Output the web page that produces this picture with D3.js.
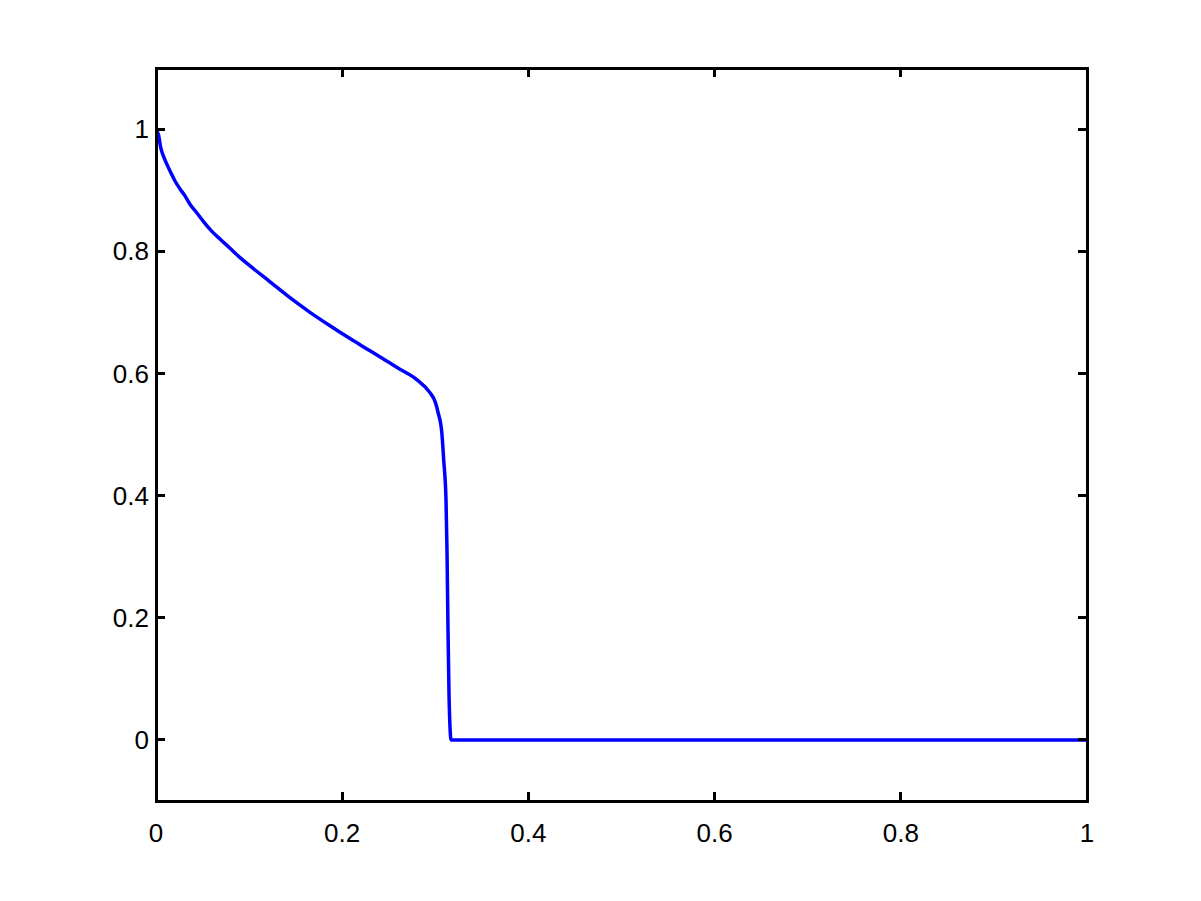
<!DOCTYPE html>
<html>
<head>
<meta charset="utf-8">
<script src="https://cdn.jsdelivr.net/npm/d3@7"></script>
<style>
  html, body { margin: 0; padding: 0; background: #fff; }
  svg { display: block; }
</style>
</head>
<body>
<svg width="1201" height="901"></svg>
<script>
// data
const xValues = [0, 0.0025, 0.005, 0.0079, 0.0115, 0.0158, 0.0204, 0.0258, 0.031, 0.0365, 0.0437,
  0.0508, 0.0598, 0.0687, 0.0795, 0.090, 0.101, 0.1225, 0.1439, 0.1654, 0.1869, 0.2084,
  0.2299, 0.2513, 0.262, 0.280, 0.294, 0.300, 0.303, 0.307, 0.309, 0.3115, 0.3126, 0.3136,
  0.3147, 0.3158, 0.3169, 0.40, 0.60, 0.80, 1.0];
const yValues = [0.998, 0.992, 0.970, 0.956, 0.943, 0.929, 0.915, 0.902, 0.891, 0.877, 0.863,
  0.849, 0.833, 0.820, 0.805, 0.790, 0.776, 0.750, 0.724, 0.700, 0.678, 0.657,
  0.637, 0.617, 0.607, 0.590, 0.569, 0.553, 0.536, 0.503, 0.459, 0.393, 0.307, 0.185,
  0.077, 0.021, 0, 0, 0, 0, 0];
const xTicks = [0, 0.2, 0.4, 0.6, 0.8, 1];
const yTicks = [0, 0.2, 0.4, 0.6, 0.8, 1];

const svg = d3.select("svg");
const mLeft = 156, mRight = 1087, mTop = 68, mBottom = 801;

const x = d3.scaleLinear().domain([0, 1]).range([mLeft, mRight]);
const y = d3.scaleLinear().domain([-0.1, 1.1]).range([mBottom, mTop]);

const fmt = d => d === 0 || d === 1 ? String(d) : d.toFixed(1);
const font = "'Liberation Sans', Arial, Helvetica, sans-serif";

// the curve
const points = xValues.map((d, i) => [d, yValues[i]]);
svg.append("path")
    .datum(points)
    .attr("d", d3.line().x(d => x(d[0])).y(d => y(d[1])).curve(d3.curveMonotoneX))
    .attr("fill", "none")
    .attr("stroke", "#0000ff")
    .attr("stroke-width", 3.5)
    .attr("stroke-linejoin", "round");

// ticks on all four sides, pointing inward
const tickLen = 9;
const tickStyle = sel => sel.attr("stroke", "#000").attr("stroke-width", 3).attr("shape-rendering", "crispEdges");

xTicks.forEach(t => {
  svg.append("line").attr("x1", x(t)).attr("x2", x(t)).attr("y1", mBottom).attr("y2", mBottom - tickLen).call(tickStyle);
  svg.append("line").attr("x1", x(t)).attr("x2", x(t)).attr("y1", mTop).attr("y2", mTop + tickLen).call(tickStyle);
  svg.append("text")
      .attr("x", x(t))
      .attr("y", mBottom + 41)
      .attr("text-anchor", "middle")
      .attr("font-family", font)
      .attr("font-size", "26px")
      .text(fmt(t));
});

yTicks.forEach(t => {
  svg.append("line").attr("x1", mLeft).attr("x2", mLeft + tickLen).attr("y1", y(t)).attr("y2", y(t)).call(tickStyle);
  svg.append("line").attr("x1", mRight).attr("x2", mRight - tickLen).attr("y1", y(t)).attr("y2", y(t)).call(tickStyle);
  svg.append("text")
      .attr("x", mLeft - 7)
      .attr("y", y(t))
      .attr("dy", "0.35em")
      .attr("text-anchor", "end")
      .attr("font-family", font)
      .attr("font-size", "26px")
      .text(fmt(t));
});

// box
svg.append("rect")
    .attr("x", mLeft)
    .attr("y", mTop)
    .attr("width", mRight - mLeft)
    .attr("height", mBottom - mTop)
    .attr("fill", "none")
    .attr("stroke", "#000")
    .attr("stroke-width", 3)
    .attr("shape-rendering", "crispEdges");
</script>
</body>
</html>
